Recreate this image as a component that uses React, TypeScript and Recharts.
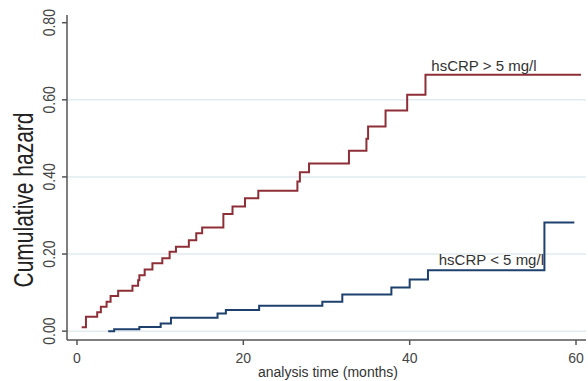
import { LineChart, Line, XAxis, YAxis, ReferenceLine, ReferenceDot } from 'recharts';

// hsCRP > 5 mg/l (step points: month, cumulative hazard)
const highMonths = [0.56, 1.08, 2.43, 2.87, 3.56, 4.04, 4.95, 6.67, 7.35, 7.5, 8.14, 9.07, 10.26, 11.14, 11.9, 13.45, 14.34, 15.05, 17.6, 18.7, 20.2, 21.8, 26.5, 26.8, 27.9, 32.7, 34.8, 35.0, 37.1, 39.7, 41.9, 60.6];
const highHazard = [0.01, 0.037, 0.049, 0.063, 0.076, 0.091, 0.105, 0.118, 0.132, 0.145, 0.16, 0.176, 0.189, 0.206, 0.219, 0.236, 0.254, 0.269, 0.304, 0.323, 0.345, 0.364, 0.388, 0.412, 0.435, 0.468, 0.499, 0.531, 0.572, 0.613, 0.665, 0.665];

// hsCRP < 5 mg/l
const lowMonths = [3.75, 4.47, 7.5, 10.06, 11.3, 16.9, 17.9, 21.9, 29.5, 31.9, 37.8, 40.0, 42.2, 56.2, 59.8];
const lowHazard = [0, 0.005, 0.011, 0.02, 0.035, 0.046, 0.055, 0.066, 0.076, 0.095, 0.113, 0.134, 0.158, 0.282, 0.282];

const xTicks = [0, 20, 40, 60];
const yTicks = [0, 0.2, 0.4, 0.6, 0.8];
const gridValues = [0, 0.2, 0.4, 0.6];

const highLabel = { text: 'hsCRP > 5 mg/l', month: 42.6, hazard: 0.675 };
const lowLabel = { text: 'hsCRP < 5 mg/l', month: 43.5, hazard: 0.171 };

const highData = highMonths.map((t, i) => ({ t, h: highHazard[i] }));
const lowData = lowMonths.map((t, i) => ({ t, h: lowHazard[i] }));

const RED = '#8e2f38';
const BLUE = '#1d406d';
const AXIS = '#555';
const FONT = 'Arial, "Liberation Sans", sans-serif';

// the original image is a bit stretched sideways, so rotated text looks wider
const YTick = ({ x, y, payload }: any) => (
  <text
    transform={`translate(${x - 7} ${y}) scale(1.15 1) rotate(-90)`}
    textAnchor="middle"
    fontSize={14}
    fill="#444"
    fontFamily={FONT}
  >
    {payload.value.toFixed(2)}
  </text>
);

const XTick = ({ x, y, payload }: any) => (
  <text x={x} y={y + 16} textAnchor="middle" fontSize={14} fill="#444" fontFamily={FONT}>
    {payload.value}
  </text>
);

const seriesLabel = (text: string) => (props: any) => (
  <text x={props.cx} y={props.cy} fontSize={15} fill="#333" fontFamily={FONT}>
    {text}
  </text>
);

export default function App() {
  return (
    <div style={{ position: 'absolute', left: 0, top: 0, width: 588, height: 381, background: '#fff' }}>
      <LineChart width={588} height={381} margin={{ top: 15, right: 2, bottom: 0, left: 0 }}>
        <XAxis
          type="number"
          dataKey="t"
          domain={[-1.2, 61.2]}
          ticks={xTicks}
          allowDataOverflow
          height={41}
          stroke={AXIS}
          strokeWidth={1.5}
          tickSize={5}
          tick={<XTick />}
          label={(p: any) => {
            const vb = p.viewBox;
            return (
              <text x={328} y={vb.y + 37} textAnchor="middle" fontSize={14} fill="#333" fontFamily={FONT}>
                analysis time (months)
              </text>
            );
          }}
        />
        <YAxis
          type="number"
          dataKey="h"
          domain={[-0.023, 0.82]}
          ticks={yTicks}
          allowDataOverflow
          width={67}
          stroke={AXIS}
          strokeWidth={1.5}
          tickSize={5}
          tickMargin={0}
          tick={<YTick />}
          label={() => (
            <text
              transform="translate(33 200) scale(1.35 1) rotate(-90)"
              textAnchor="middle"
              fontSize={21}
              fill="#222"
              fontFamily={FONT}
            >
              Cumulative hazard
            </text>
          )}
        />
        {gridValues.map((v) => (
          <ReferenceLine key={v} y={v} stroke="#e2ebef" strokeWidth={1.5} />
        ))}
        <Line
          data={highData}
          dataKey="h"
          type="stepAfter"
          stroke={RED}
          strokeWidth={2}
          dot={false}
          isAnimationActive={false}
        />
        <Line
          data={lowData}
          dataKey="h"
          type="stepAfter"
          stroke={BLUE}
          strokeWidth={2}
          dot={false}
          isAnimationActive={false}
        />
        <ReferenceDot x={highLabel.month} y={highLabel.hazard} r={0} shape={seriesLabel(highLabel.text)} />
        <ReferenceDot x={lowLabel.month} y={lowLabel.hazard} r={0} shape={seriesLabel(lowLabel.text)} />
      </LineChart>
    </div>
  );
}
